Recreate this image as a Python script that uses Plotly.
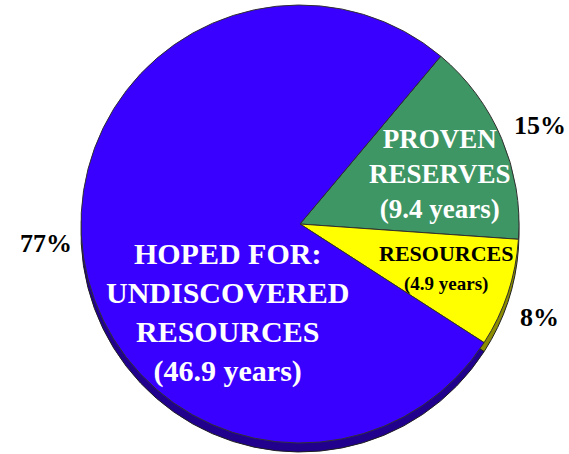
import plotly.graph_objects as go

# Share of the total (percent) and equivalent years of supply
categories = ["PROVEN<br>RESERVES", "RESOURCES", "HOPED FOR:<br>UNDISCOVERED<br>RESOURCES"]
years = [9.4, 4.9, 46.9]
shares = [15, 8, 77]

face_colors = ["#3f9665", "#ffff00", "#3a00ff"]
side_colors = ["#1f4a32", "#8c8c00", "#22008e"]
text_colors = ["white", "black", "white"]

W, H = 569, 454
cx, cy, r = 300, 224, 219
depth = 9
FONT = "Liberation Serif"


def dom(dy):
    return dict(
        x=[(cx - r) / W, (cx + r) / W],
        y=[(H - (cy + r + dy)) / H, (H - (cy - r + dy)) / H],
    )


common = dict(values=shares, sort=False, direction="clockwise", rotation=40,
              hoverinfo="skip", showlegend=False, textinfo="none")

fig = go.Figure()
# extruded side of the disc
fig.add_trace(go.Pie(**common, domain=dom(depth),
                     marker=dict(colors=side_colors, line=dict(color="#202020", width=1))))
# top face
fig.add_trace(go.Pie(**common, domain=dom(0),
                     marker=dict(colors=face_colors, line=dict(color="#303030", width=1))))


def px(x, y):
    return x / W, 1 - y / H


# slice names with years of supply
label_pos = [(440, 174), (446, 268), (227, 312)]
label_sizes = [27, 22, 30]
for i, (cat, yr) in enumerate(zip(categories, years)):
    x, y = px(*label_pos[i])
    if i == 1:
        txt = f"{cat}<br><span style='font-size:19px'>({yr} years)</span>"
    else:
        txt = f"{cat}<br>({yr} years)"
    fig.add_annotation(x=x, y=y, xref="paper", yref="paper", text=txt,
                       showarrow=False, xanchor="center", yanchor="middle",
                       font=dict(family=FONT, size=label_sizes[i],
                                 color=text_colors[i], weight="bold"))

# percentage of each slice outside the rim
pct_pos = [(540, 126), (539, 317), (46, 244)]
for s, (x0, y0) in zip(shares, pct_pos):
    x, y = px(x0, y0)
    fig.add_annotation(x=x, y=y, xref="paper", yref="paper", text=f"{s}%",
                       showarrow=False, xanchor="center", yanchor="middle",
                       font=dict(family=FONT, size=26, color="black", weight="bold"))

fig.update_layout(width=W, height=H, margin=dict(l=0, r=0, t=0, b=0),
                  paper_bgcolor="white", plot_bgcolor="white")
fig.write_html("out.html")
